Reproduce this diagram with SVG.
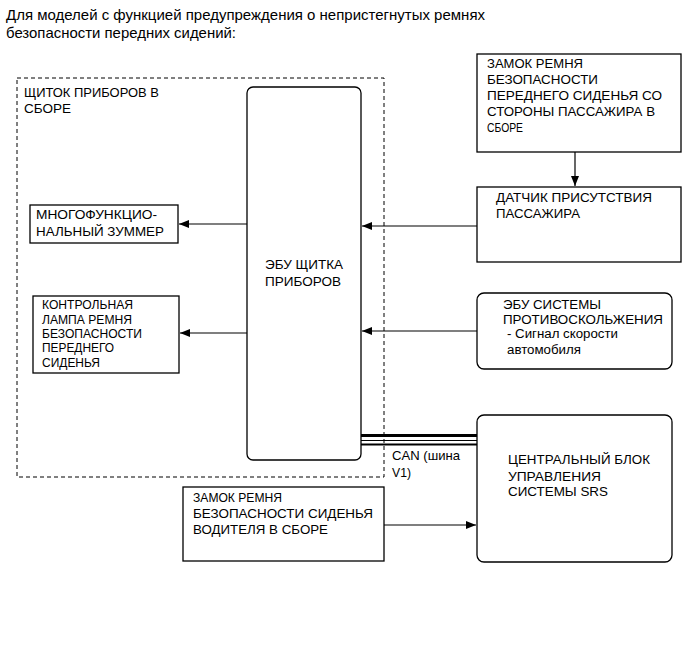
<svg xmlns="http://www.w3.org/2000/svg" width="689" height="659" viewBox="0 0 689 659">
<defs>
<style>
text{font-family:"Liberation Sans",Arial,sans-serif;fill:#000;}
.t{font-size:15px;}
.n{font-size:13px;}
.s{font-size:12px;}
.box{fill:#fff;stroke:#000;stroke-width:1.3;}
.ln{stroke:#000;stroke-width:1.2;fill:none;}
</style>
<marker id="ah" viewBox="0 0 10 8" refX="10" refY="4" markerWidth="10" markerHeight="8" markerUnits="userSpaceOnUse" orient="auto">
<path d="M0,0 L10,4 L0,8 Z" fill="#000"/>
</marker>
</defs>
<rect width="689" height="659" fill="#fff"/>
<text class="t" x="6" y="20" textLength="479" lengthAdjust="spacingAndGlyphs">Для моделей с функцией предупреждения о непристегнутых ремнях</text>
<text class="t" x="6" y="38" textLength="230" lengthAdjust="spacingAndGlyphs">безопасности передних сидений:</text>

<g id="cluster">
<rect x="17" y="78" width="367" height="399" fill="none" stroke="#000" stroke-width="1" stroke-dasharray="4,3"/>
<text class="n" x="24" y="97" textLength="135" lengthAdjust="spacingAndGlyphs">ЩИТОК ПРИБОРОВ В</text>
<text class="n" x="24" y="113" textLength="47" lengthAdjust="spacingAndGlyphs">СБОРЕ</text>
</g>

<g id="ecu">
<rect class="box" x="247" y="87" width="114" height="373" rx="6"/>
<text class="n" x="265" y="269" textLength="78" lengthAdjust="spacingAndGlyphs">ЭБУ ЩИТКА</text>
<text class="n" x="265" y="286" textLength="76" lengthAdjust="spacingAndGlyphs">ПРИБОРОВ</text>
</g>

<g id="buzzer">
<rect class="box" x="30" y="205" width="148" height="38"/>
<text class="n" x="36" y="219" textLength="121" lengthAdjust="spacingAndGlyphs">МНОГОФУНКЦИО-</text>
<text class="n" x="36" y="236" textLength="128" lengthAdjust="spacingAndGlyphs">НАЛЬНЫЙ ЗУММЕР</text>
</g>

<g id="lamp">
<rect class="box" x="33" y="296" width="146" height="77"/>
<text class="s" x="42" y="309" textLength="91" lengthAdjust="spacingAndGlyphs">КОНТРОЛЬНАЯ</text>
<text class="s" x="42" y="324" textLength="90" lengthAdjust="spacingAndGlyphs">ЛАМПА РЕМНЯ</text>
<text class="s" x="42" y="338" textLength="100" lengthAdjust="spacingAndGlyphs">БЕЗОПАСНОСТИ</text>
<text class="s" x="42" y="352" textLength="72" lengthAdjust="spacingAndGlyphs">ПЕРЕДНЕГО</text>
<text class="s" x="42" y="367" textLength="58" lengthAdjust="spacingAndGlyphs">СИДЕНЬЯ</text>
</g>

<g id="buckle-pass">
<rect class="box" x="477" y="54" width="204" height="98"/>
<text class="n" x="487" y="68" textLength="96" lengthAdjust="spacingAndGlyphs">ЗАМОК РЕМНЯ</text>
<text class="n" x="487" y="84" textLength="111" lengthAdjust="spacingAndGlyphs">БЕЗОПАСНОСТИ</text>
<text class="n" x="487" y="100" textLength="175" lengthAdjust="spacingAndGlyphs">ПЕРЕДНЕГО СИДЕНЬЯ СО</text>
<text class="n" x="487" y="116" textLength="168" lengthAdjust="spacingAndGlyphs">СТОРОНЫ ПАССАЖИРА В</text>
<text class="n" x="487" y="132" textLength="36" lengthAdjust="spacingAndGlyphs">СБОРЕ</text>
</g>

<g id="sensor">
<rect class="box" x="477" y="187" width="204" height="75"/>
<text class="n" x="496" y="202" textLength="156" lengthAdjust="spacingAndGlyphs">ДАТЧИК ПРИСУТСТВИЯ</text>
<text class="n" x="496" y="218" textLength="84" lengthAdjust="spacingAndGlyphs">ПАССАЖИРА</text>
</g>

<g id="abs">
<rect class="box" x="477" y="293" width="195" height="76" rx="7"/>
<text class="n" x="503" y="309" textLength="98" lengthAdjust="spacingAndGlyphs">ЭБУ СИСТЕМЫ</text>
<text class="n" x="503" y="324" textLength="160" lengthAdjust="spacingAndGlyphs">ПРОТИВОСКОЛЬЖЕНИЯ</text>
<text class="s" x="507" y="338" textLength="111" lengthAdjust="spacingAndGlyphs">- Сигнал скорости</text>
<text class="s" x="507" y="354" textLength="74" lengthAdjust="spacingAndGlyphs">автомобиля</text>
</g>

<g id="srs">
<rect class="box" x="477" y="415" width="195" height="147" rx="7"/>
<text class="n" x="508" y="464" textLength="142" lengthAdjust="spacingAndGlyphs">ЦЕНТРАЛЬНЫЙ БЛОК</text>
<text class="n" x="508" y="481" textLength="93" lengthAdjust="spacingAndGlyphs">УПРАВЛЕНИЯ</text>
<text class="n" x="508" y="496" textLength="100" lengthAdjust="spacingAndGlyphs">СИСТЕМЫ SRS</text>
</g>

<g id="buckle-drv">
<rect class="box" x="183" y="487" width="201" height="74"/>
<text class="n" x="193" y="502" textLength="89" lengthAdjust="spacingAndGlyphs">ЗАМОК РЕМНЯ</text>
<text class="n" x="193" y="518" textLength="180" lengthAdjust="spacingAndGlyphs">БЕЗОПАСНОСТИ СИДЕНЬЯ</text>
<text class="n" x="193" y="534" textLength="135" lengthAdjust="spacingAndGlyphs">ВОДИТЕЛЯ В СБОРЕ</text>
</g>

<g id="connectors">
<line class="ln" x1="247" y1="224" x2="179" y2="224" marker-end="url(#ah)"/>
<line class="ln" x1="247" y1="333" x2="180" y2="333" marker-end="url(#ah)"/>
<line class="ln" x1="477" y1="226" x2="362" y2="226" marker-end="url(#ah)"/>
<line class="ln" x1="477" y1="331" x2="362" y2="331" marker-end="url(#ah)"/>
<line class="ln" x1="575" y1="152" x2="575" y2="186" marker-end="url(#ah)"/>
<line class="ln" x1="384" y1="525" x2="476" y2="525" marker-end="url(#ah)"/>
<line x1="361" y1="435.5" x2="477" y2="435.5" stroke="#000" stroke-width="3"/>
<line x1="361" y1="440.5" x2="477" y2="440.5" stroke="#000" stroke-width="1.2"/>
<line x1="361" y1="444.5" x2="477" y2="444.5" stroke="#000" stroke-width="2"/>
<text class="n" x="392" y="460" textLength="68" lengthAdjust="spacingAndGlyphs">CAN (шина</text>
<text class="n" x="392" y="477" textLength="19" lengthAdjust="spacingAndGlyphs">V1)</text>
</g>
</svg>
